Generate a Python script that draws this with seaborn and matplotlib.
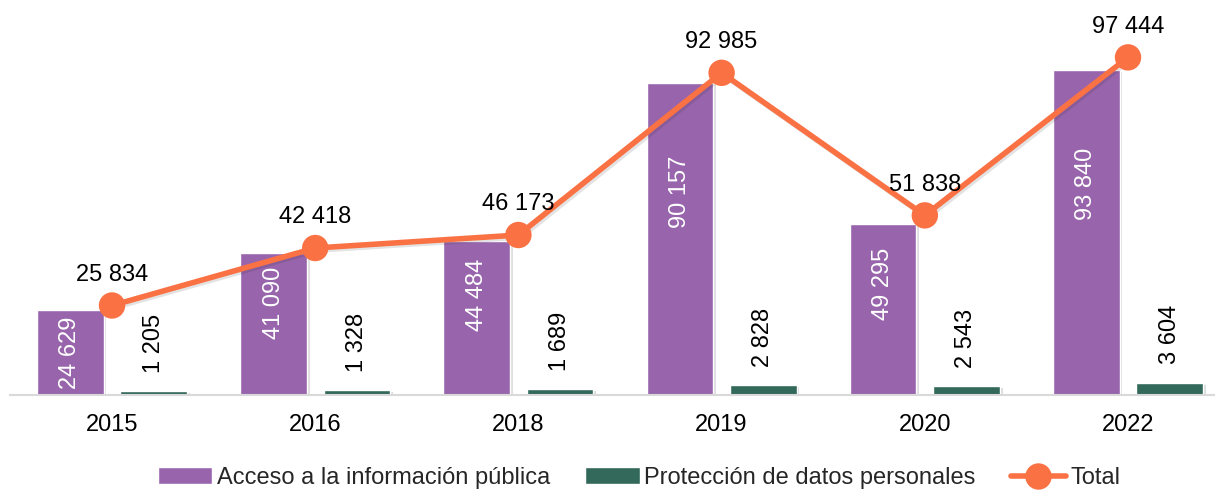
import numpy as np
import pandas as pd
import matplotlib
matplotlib.use("Agg")
import matplotlib.pyplot as plt
import matplotlib.patheffects as pe
import seaborn as sns

# Data
anios = ["2015", "2016", "2018", "2019", "2020", "2022"]
acceso = [24629, 41090, 44484, 90157, 49295, 93840]
proteccion = [1205, 1328, 1689, 2828, 2543, 3604]
total = [25834, 42418, 46173, 92985, 51838, 97444]

serie_acceso = "Acceso a la información pública"
serie_proteccion = "Protección de datos personales"

morado = "#9865AD"
verde = "#33695A"
naranja = "#FA7143"

df = pd.DataFrame({
    "anio": anios * 2,
    "serie": [serie_acceso] * len(anios) + [serie_proteccion] * len(anios),
    "valor": acceso + proteccion,
})

def fmt(v):
    return f"{v:,}".replace(",", " ")

sns.set_theme(style="white")
plt.rcParams["font.family"] = ["Liberation Sans", "DejaVu Sans"]
fs = 17

fig = plt.figure(figsize=(12.15, 4.91), dpi=100)
ax = fig.add_axes([10 / 1215, (491 - 395) / 491, 1205 / 1215, 395 / 491])

sns.barplot(data=df, x="anio", y="valor", hue="serie", order=anios,
            hue_order=[serie_acceso, serie_proteccion],
            palette=[morado, verde], width=0.82, gap=0.2,
            saturation=1, ax=ax, zorder=2)

for p in ax.patches:
    p.set_path_effects([pe.SimplePatchShadow(offset=(2, -1.5), alpha=0.15), pe.Normal()])

x = np.arange(len(anios))
sns.lineplot(x=x, y=total, color=naranja, linewidth=4, marker="o",
             markersize=19, markeredgewidth=0, label="Total", ax=ax, zorder=4,
             path_effects=[pe.SimpleLineShadow(offset=(1.5, -1.5), alpha=0.12), pe.Normal()])

off = 0.205
for i in range(len(anios)):
    # purple bar labels (inside, white)
    yc = min(0.65 * acceso[i], acceso[i] - 12500)
    ax.text(i - off, yc, fmt(acceso[i]), rotation=90, ha="center", va="center",
            color="white", fontsize=fs, zorder=3)
    # green bar labels (above bar)
    ax.annotate(fmt(proteccion[i]), (i + off, proteccion[i]), xytext=(0, 13),
                textcoords="offset points", rotation=90, ha="center", va="bottom",
                fontsize=fs, color="black", zorder=3)
    # total labels
    ax.annotate(fmt(total[i]), (i, total[i]), xytext=(0, 22),
                textcoords="offset points", ha="center", va="center",
                fontsize=fs, color="black", zorder=5)

ax.set_xlim(-0.502, 5.428)
ax.set_ylim(0, 114000)
ax.set_xlabel("")
ax.set_ylabel("")
ax.set_yticks([])
ax.tick_params(axis="x", length=0, pad=14, labelsize=fs, colors="black")
for s in ["top", "right", "left"]:
    ax.spines[s].set_visible(False)
ax.spines["bottom"].set_color("#D9D9D9")
ax.spines["bottom"].set_linewidth(1.5)

handles, labels = ax.get_legend_handles_labels()
leg = ax.legend(handles, labels, loc="center", bbox_to_anchor=(0.522, -0.21),
                bbox_transform=ax.transAxes, ncol=3, frameon=False, fontsize=fs,
                handlelength=2.3, handletextpad=0.2, columnspacing=1.5)
for h in leg.legend_handles:
    h.set_path_effects([])

plt.savefig("out.png", dpi=100)
